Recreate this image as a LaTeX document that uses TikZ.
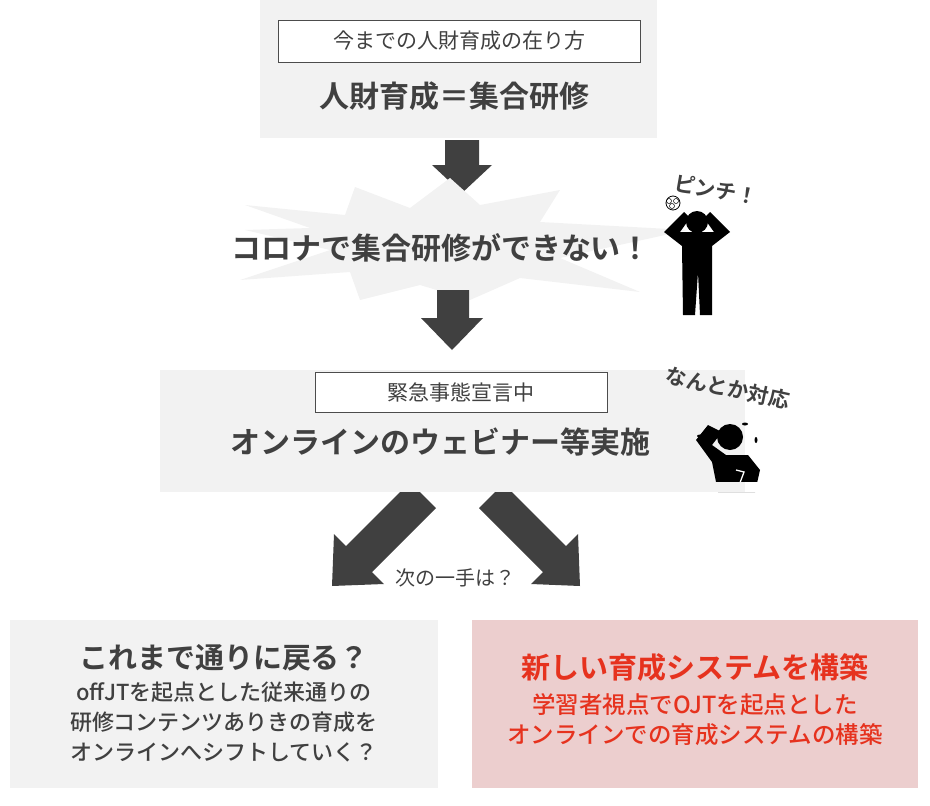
\documentclass[tikz,border=0pt]{standalone}
\usepackage{fontspec}
\setmainfont{Noto Sans CJK JP}
\newfontfamily\jpb{Noto Sans CJK JP}[BoldFont={* Bold}]
\newfontfamily\jpm{Noto Sans CJK JP Medium}
\begin{document}
\begin{tikzpicture}[x=1pt,y=-1pt,
  panel/.style={fill=black!5,draw=none},
  tag/.style={draw=black!70,fill=white,line width=0.8pt},
  blk/.style={fill=black!75,draw=none},
  txt/.style={text=black!75,font=\jpb\bfseries},
  fig/.style={fill=black,draw=none}]
\useasboundingbox (0,0) rectangle (930,806);
% top panel
\fill[panel] (260,0) rectangle (657,138);
\draw[tag] (278,20) rectangle (640,62);
\node[text=black!75,font=\fontsize{21}{21}\selectfont] (t1) at (459,41) {今までの人財育成の在り方};
\node[txt,font=\jpb\bfseries\fontsize{30}{30}\selectfont] (t2) at (454,96) {人財育成＝集合研修};
% arrow 1
\fill[blk] (445,140) -- (479,140) -- (479,165) -- (492,165) -- (462,193) -- (432,165) -- (445,165) -- cycle;
% burst
\fill[panel] (245,205) -- (345,215) -- (355,187) -- (410,208) -- (450,178) -- (480,205) -- (560,190) -- (540,222) -- (688,230) -- (560,258) -- (640,292) -- (520,278) -- (470,300) -- (420,285) -- (360,300) -- (350,272) -- (240,280) -- (330,250) -- (245,230) -- (310,228) -- cycle;
\node[txt,font=\jpb\bfseries\fontsize{30}{30}\selectfont] (t3) at (441,248) {コロナで集合研修ができない！};
% arrow 2
\fill[blk] (437,290) -- (469,290) -- (469,318) -- (483,318) -- (452,350) -- (421,318) -- (437,318) -- cycle;
% person 1
\node[font=\jpb\bfseries\fontsize{21}{21}\selectfont,text=black!75,rotate=-10,inner sep=0pt] (p1t) at (716,190) {ピンチ！};
\fill[fig] (697,222) circle (11);
\fill[fig] (664,232) -- (684,212) -- (690,218) -- (680,232) -- (714,232) -- (704,218) -- (710,212) -- (730,232) -- (712,246) -- (712,315) -- (700,315) -- (698,272) -- (695,315) -- (683,315) -- (682,246) -- cycle;
\draw[black,line width=0.8pt] (673,203) circle (7);
\draw[black,line width=0.5pt] (669,201) circle (2.5) (676,201) circle (2.5) (672,206) circle (2.5);
% panel 2
\fill[panel] (160,370) rectangle (745,492);
\draw[tag] (315,372) rectangle (607,412);
\node[text=black!75,font=\fontsize{21}{21}\selectfont] (t4) at (461,392) {緊急事態宣言中};
\node[txt,font=\jpb\bfseries\fontsize{30}{30}\selectfont] (t5) at (440,442) {オンラインのウェビナー等実施};
% person 2
\node[font=\jpb\bfseries\fontsize{21}{21}\selectfont,text=black!75,rotate=-12,inner sep=0pt] (p2t) at (728,388) {なんとか対応};
\fill[fig] (730,437) circle (13);
\fill[fig] (696,440) -- (708,425) -- (722,432) -- (712,445) -- (726,455) -- (748,455) -- (760,470) -- (755,492) -- (718,492) -- (712,462) -- cycle;
\draw[white,line width=1.3pt] (736,470) -- (744,472) -- (738,488);
\fill[fig] (700,436) ellipse (3 and 1.5);
\fill[fig] (745,424) ellipse (3 and 1.5);
\fill[fig] (756,440) ellipse (1.5 and 3);
% diagonal arrows
\fill[blk] (420,492) -- (436,508) -- (372,572) -- (384,584) -- (332,586) -- (334,534) -- (346,546) -- (410,482) -- cycle;
\fill[blk] (495,492) -- (479,508) -- (543,572) -- (531,584) -- (580,586) -- (578,534) -- (566,546) -- (502,482) -- cycle;
\fill[white] (0,482) rectangle (930,492);
\fill[panel] (160,482) rectangle (745,492);
\node[text=black!75,font=\fontsize{20}{20}\selectfont] (t6) at (455,578) {次の一手は？};
% bottom left
\fill[panel] (10,620) rectangle (438,788);
\node[txt,font=\jpb\bfseries\fontsize{29}{29}\selectfont] (b1) at (224,658) {これまで通りに戻る？};
\node[text=black!75,font=\jpm\fontsize{22}{30}\selectfont,align=center] (b2) at (224,722) {offJTを起点とした従来通りの\\研修コンテンツありきの育成を\\オンラインへシフトしていく？};
% bottom right
\fill[fill={rgb,255:red,236;green,206;blue,206}] (472,620) rectangle (918,788);
\node[font=\jpb\bfseries\fontsize{29}{29}\selectfont,text={rgb,255:red,230;green,50;blue,30}] (r1) at (695,668) {新しい育成システムを構築};
\node[font=\jpm\fontsize{23.5}{30}\selectfont,text={rgb,255:red,230;green,50;blue,30},align=center] (r2) at (695,720) {学習者視点でOJTを起点とした\\オンラインでの育成システムの構築};
\end{tikzpicture}
\end{document}
